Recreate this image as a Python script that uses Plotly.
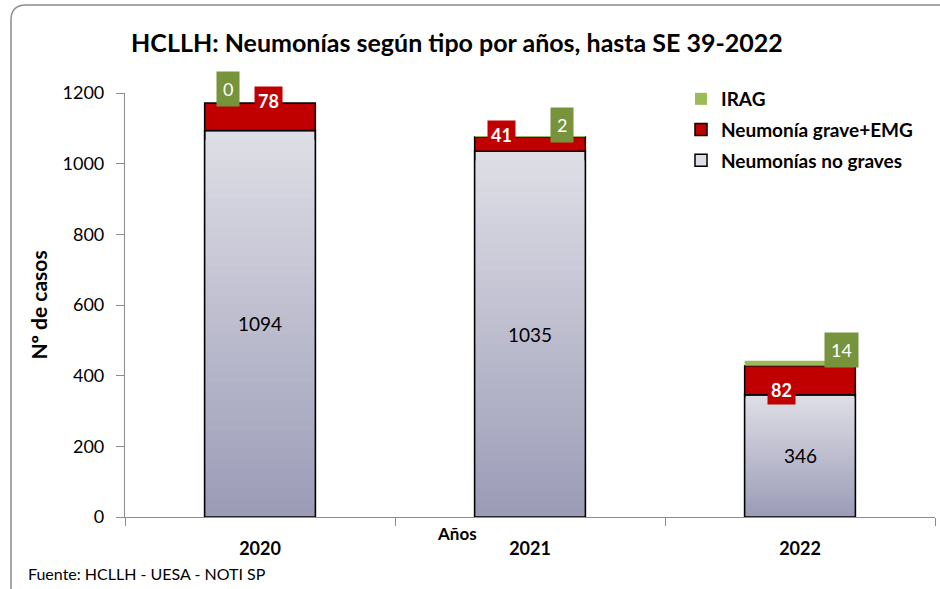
import plotly.graph_objects as go

# ---------------- data ----------------
years = ["2020", "2021", "2022"]
no_graves = [1094, 1035, 346]
grave_emg = [78, 41, 82]
irag = [0, 2, 14]

series_names = ["IRAG", "Neumonía grave+EMG", "Neumonías no graves"]
y_ticks = [0, 200, 400, 600, 800, 1000, 1200]
Y_MAX = 1200

# ---------------- style ----------------
W, H = 940, 589
L, R, T, B = 125, 5, 93, 72
FONT = "Lato, 'Open Sans', sans-serif"
RED = "#c00000"
GREEN = "#9bbb59"
GREEN_LBL = "#77933c"
TOP_GRAY = (222, 222, 230)
BOT_GRAY = (154, 154, 182)
BAR_W = 0.41

fig = go.Figure()

# gradient gray bars (overlayed, shortening bars getting darker)
N = 40
for k in range(N):
    f = k / N
    c = tuple(round(TOP_GRAY[i] + (BOT_GRAY[i] - TOP_GRAY[i]) * f) for i in range(3))
    fig.add_trace(go.Bar(
        x=years, y=[v * (1 - f) for v in no_graves], base=[0, 0, 0],
        width=BAR_W, marker=dict(color="rgb(%d,%d,%d)" % c, line=dict(width=1.5 if k == 0 else 0, color="black")),
        name=series_names[2], showlegend=(k == 0), legendrank=3, legendgroup="g3", hoverinfo="skip"))
# outline of gray bars
fig.add_trace(go.Bar(x=years, y=no_graves, base=[0, 0, 0], width=BAR_W,
                     marker=dict(color="rgba(0,0,0,0)", line=dict(width=1.5, color="black")),
                     showlegend=False, hoverinfo="skip"))
# red
fig.add_trace(go.Bar(x=years, y=grave_emg, base=no_graves, width=BAR_W,
                     marker=dict(color=RED, line=dict(width=1.5, color="black")),
                     name=series_names[1], legendrank=2, legendgroup="g2"))
# green
fig.add_trace(go.Bar(x=years, y=irag, base=[a + b for a, b in zip(no_graves, grave_emg)], width=BAR_W,
                     marker=dict(color=GREEN, line=dict(width=0)),
                     name=series_names[0], legendrank=1, legendgroup="g1"))

# ---------------- labels ----------------
ann = []
for i, v in enumerate(no_graves):
    ann.append(dict(x=i, y=v / 2, text=str(v), showarrow=False, xref="x", yref="y",
                    font=dict(family=FONT, size=19, color="black")))
red_dx = [0.033, -0.104, -0.07]
red_dy = [5, 5, -69]
for i, v in enumerate(grave_emg):
    top = no_graves[i] + grave_emg[i]
    ann.append(dict(x=i + red_dx[i], y=(top + red_dy[i]) / Y_MAX, text="<b>%d</b>" % v, showarrow=False,
                    xref="x", yref="paper", yanchor="middle", xanchor="center", bgcolor=RED, borderpad=3,
                    font=dict(family=FONT, size=18, color="white")))
grn_dx = [-0.118, 0.119, 0.152]
grn_dy = [39, 31, 31]
for i, v in enumerate(irag):
    top = no_graves[i] + grave_emg[i] + irag[i]
    ann.append(dict(x=i + grn_dx[i], y=(top + grn_dy[i]) / Y_MAX, text=str(v), showarrow=False,
                    xref="x", yref="paper", yanchor="middle", xanchor="center", bgcolor=GREEN_LBL, borderpad=6,
                    font=dict(family=FONT, size=18, color="white")))

pw, ph = W - L - R, H - T - B
def px(xp): return (xp - L) / pw
def py(yp): return (H - B - yp) / ph

ann.append(dict(x=px(457), y=py(533), xref="paper", yref="paper", yanchor="middle", text="<b>Años</b>",
                showarrow=False, font=dict(family=FONT, size=17, color="black")))
ann.append(dict(x=px(26), y=py(573), xref="paper", yref="paper", xanchor="left", yanchor="middle",
                text="Fuente: HCLLH - UESA - NOTI SP",
                showarrow=False, font=dict(family=FONT, size=16, color="black")))

border = "M %f,%f L %f,%f Q %f,%f %f,%f L %f,%f" % (
    px(11), py(610), px(11), py(20), px(11), py(5), px(26), py(5), px(960), py(5))

fig.update_layout(
    width=W, height=H, barmode="overlay",
    margin=dict(l=L, r=R, t=T, b=B, autoexpand=False),
    paper_bgcolor="white", plot_bgcolor="white",
    font=dict(family=FONT, size=16, color="black"),
    title=dict(text="<b>HCLLH: Neumonías según tipo por años, hasta SE 39-2022</b>",
               x=457 / W, xanchor="center", y=1 - 43 / H, yanchor="middle",
               font=dict(family=FONT, size=25, color="black")),
    legend=dict(x=px(681), y=py(80), xanchor="left", yanchor="top",
                font=dict(family=FONT, size=19, color="black", weight="bold"),
                itemwidth=30, tracegroupgap=3, bgcolor="rgba(0,0,0,0)"),
    annotations=ann,
    shapes=[dict(type="path", path=border, xref="paper", yref="paper",
                 line=dict(color="#8c8c8c", width=1.5))],
    xaxis=dict(type="category", showline=True, linecolor="#8c8c8c", linewidth=1.2,
               ticks="outside", tickson="boundaries", ticklen=8, tickcolor="#8c8c8c",
               tickfont=dict(family=FONT, size=18, color="black"), ticklabelstandoff=15,
               tickvals=years, ticktext=["<b>%s</b>" % y for y in years], showgrid=False,
               range=[-0.5, 2.5]),
    yaxis=dict(range=[0, Y_MAX], tickvals=y_ticks, showline=True, linecolor="#8c8c8c", linewidth=1.2,
               ticks="outside", ticklen=8, tickcolor="#8c8c8c", showgrid=False, zeroline=False,
               tickfont=dict(family=FONT, size=18, color="black"), ticklabelstandoff=8,
               title=dict(text="<b>Nº de casos</b>", font=dict(family=FONT, size=21, color="black"), standoff=9)),
)

fig.write_html("out.html", config={"displayModeBar": False},
               post_script="document.body.style.margin='0';")
